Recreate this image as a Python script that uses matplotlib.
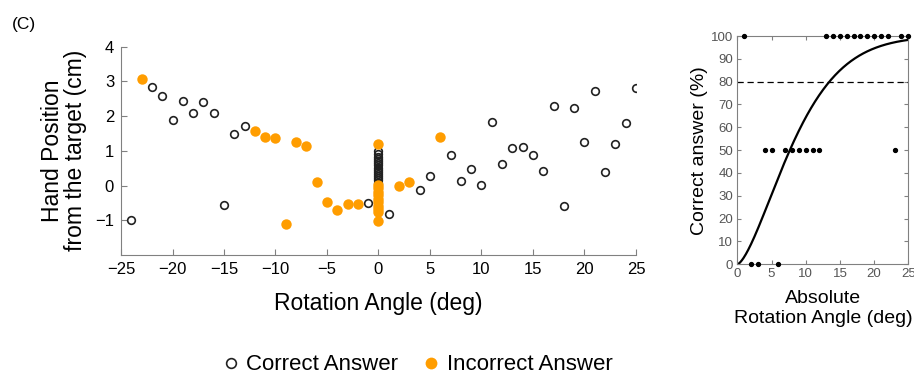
import numpy as np
import matplotlib
matplotlib.use('Agg')
import matplotlib.pyplot as plt
from matplotlib.lines import Line2D

plt.rcParams['font.family'] = ['Liberation Sans', 'DejaVu Sans']

orange = '#FF9D00'
spineGray = '#808080'

# left panel: hand position vs rotation angle
correctAngle = [-24, -22, -21, -20, -19, -18, -17, -16, -15, -14, -13, -1, 1,
                4, 5, 7, 8, 9, 10, 11, 12, 13, 14, 15, 16, 17, 18, 19, 20, 21,
                22, 23, 24, 25,
                0, 0, 0, 0, 0, 0, 0, 0, 0, 0, 0, 0, 0, 0, 0]
correctPos = [-1.0, 2.85, 2.59, 1.88, 2.43, 2.09, 2.41, 2.09, -0.57, 1.49, 1.71,
              -0.49, -0.81, -0.14, 0.28, 0.87, 0.14, 0.47, 0.02, 1.82, 0.62,
              1.09, 1.12, 0.88, 0.43, 2.30, -0.59, 2.23, 1.25, 2.73, 0.39,
              1.19, 1.79, 2.82,
              1.0, 0.9, 0.82, 0.76, 0.7, 0.64, 0.58, 0.52, 0.46, 0.4, 0.34,
              0.28, 0.22, 0.15, 0.08]
incorrectAngle = [-23, -12, -11, -10, -9, -8, -7, -6, -5, -4, -3, -2, 2, 3, 6,
                  0, 0, 0, 0, 0, 0, 0, 0, 0, 0, 0]
incorrectPos = [3.07, 1.58, 1.39, 1.36, -1.10, 1.26, 1.14, 0.09, -0.48, -0.69,
                -0.53, -0.53, -0.02, 0.10, 1.40,
                1.2, 0.02, -0.08, -0.18, -0.28, -0.38, -0.48, -0.58, -0.68,
                -0.76, -1.02]

# right panel: percent correct vs absolute rotation angle
absAngle = [1, 13, 14, 15, 16, 17, 18, 19, 20, 21, 22, 24, 25,
            4, 5, 7, 8, 9, 10, 11, 12, 23,
            2, 3, 6]
pctCorrect = [100, 100, 100, 100, 100, 100, 100, 100, 100, 100, 100, 100, 100,
              50, 50, 50, 50, 50, 50, 50, 50, 50,
              0, 0, 0]
# psychometric (Weibull) fit
fitScale = 9.8
fitShape = 1.5
threshold = 80

fig = plt.figure(figsize=(9.14, 3.81), dpi=100)

ax = fig.add_axes([0.1324, 0.3307, 0.5634, 0.5467])
ax.plot(correctAngle, correctPos, 'o', mfc='none', mec='#222222', mew=1.2,
        ms=5.5, zorder=3)
ax.plot(incorrectAngle, incorrectPos, 'o', color=orange, mec='none', ms=7.5,
        zorder=4)
ax.set_xlim(-25, 25)
ax.set_ylim(-2, 4)
ax.set_xticks(range(-25, 26, 5))
ax.set_yticks(range(-1, 5))
for s in ['top', 'right']:
    ax.spines[s].set_visible(False)
for s in ['left', 'bottom']:
    ax.spines[s].set_color(spineGray)
ax.tick_params(direction='in', length=4, color=spineGray, labelsize=12,
               pad=5)
ax.set_xlabel('Rotation Angle (deg)', fontsize=16.5, labelpad=11)
ax.set_ylabel('Hand Position\nfrom the target (cm)', fontsize=16.5,
              labelpad=6, linespacing=1.0)

ax2 = fig.add_axes([0.8067, 0.3063, 0.1871, 0.5992])
xs = np.linspace(0, 25, 300)
ax2.plot(xs, 100 * (1 - np.exp(-(xs / fitScale) ** fitShape)), color='black',
         lw=1.6)
ax2.axhline(threshold, color='black', lw=0.9, ls=(0, (5, 3)))
ax2.plot(absAngle, pctCorrect, 'o', color='black', ms=2.8, clip_on=False,
         zorder=5)
ax2.set_xlim(0, 25)
ax2.set_ylim(0, 100)
ax2.set_xticks(range(0, 26, 5))
ax2.set_yticks(range(0, 101, 10))
for s in ax2.spines.values():
    s.set_color(spineGray)
ax2.tick_params(direction='in', length=3, color=spineGray, labelsize=9.5,
                labelcolor='#555555', top=True, right=True, pad=3)
ax2.set_xlabel('Absolute\nRotation Angle (deg)', fontsize=14, labelpad=7,
               linespacing=1.25)
ax2.set_ylabel('Correct answer (%)', fontsize=14, labelpad=2)

fig.text(0.013, 0.937, '(C)', fontsize=12.5, va='center')

handles = [Line2D([], [], ls='none', marker='o', mfc='none', mec='#222222',
                  mew=1.2, ms=7),
           Line2D([], [], ls='none', marker='o', color=orange, mec='none',
                  ms=8.5)]
fig.legend(handles, ['Correct Answer', 'Incorrect Answer'], loc='center',
           bbox_to_anchor=(0.454, 0.042), ncol=2, frameon=False, fontsize=16,
           handletextpad=0.1, columnspacing=0.9, handlelength=1.2)

fig.savefig('out.png', dpi=100)
